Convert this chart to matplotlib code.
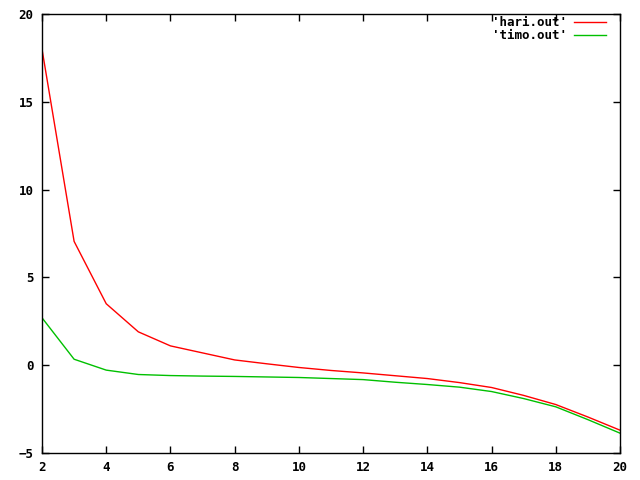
import matplotlib
matplotlib.use("Agg")
import matplotlib.pyplot as plt

x = [2, 3, 4, 5, 6, 7, 8, 9, 10, 11, 12, 13, 14, 15, 16, 17, 18, 19, 20]
hari = [18.0, 7.05, 3.5, 1.9, 1.1, 0.7, 0.3, 0.08, -0.13, -0.3, -0.44, -0.6,
        -0.76, -0.99, -1.27, -1.72, -2.24, -2.95, -3.7]
timo = [2.7, 0.34, -0.28, -0.53, -0.59, -0.62, -0.64, -0.67, -0.70, -0.76,
        -0.82, -0.97, -1.1, -1.25, -1.5, -1.9, -2.37, -3.1, -3.87]
xticks = [2, 4, 6, 8, 10, 12, 14, 16, 18, 20]
yticks = [-5, 0, 5, 10, 15, 20]

plt.rcParams['font.family'] = 'DejaVu Sans Mono'
plt.rcParams['font.weight'] = 'bold'
plt.rcParams['font.size'] = 9

fig = plt.figure(figsize=(6.4, 4.8), dpi=100)
ax = fig.add_axes([42/640, 27/480, 578/640, 439/480])
ax.plot(x, hari, color='#ff0000', lw=1, label="'hari.out'")
ax.plot(x, timo, color='#00c000', lw=1, label="'timo.out'")
ax.set_xlim(2, 20)
ax.set_ylim(-5, 20)
ax.set_xticks(xticks)
ax.set_yticks(yticks)
ax.tick_params(direction='in', length=5, width=1, top=True, right=True, pad=6)
for s in ax.spines.values():
    s.set_linewidth(1)
ax.legend(loc='upper right', frameon=False, markerfirst=False, handlelength=2.6,
          borderaxespad=0.0, borderpad=0.0, labelspacing=0.0, handletextpad=0.5,
          bbox_to_anchor=(0.976, 0.995))
fig.savefig("out.png", dpi=100)
